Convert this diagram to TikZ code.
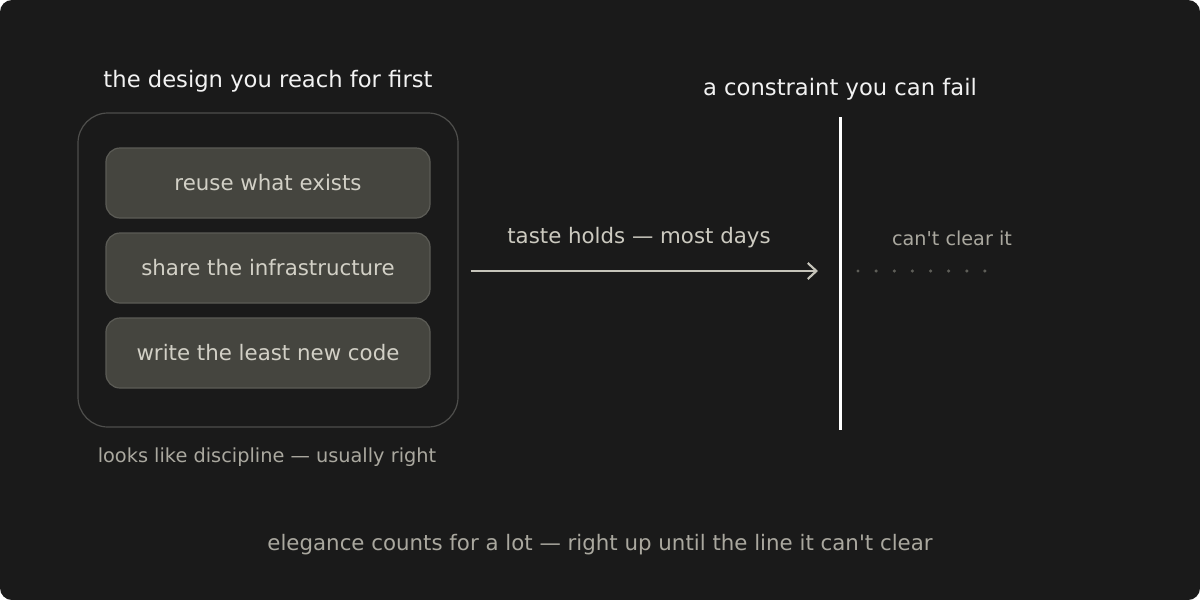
\documentclass[tikz,border=0pt]{standalone}
\usepackage{fontspec}
\setmainfont{DejaVu Sans}[Ligatures=TeXOff]
\usetikzlibrary{arrows.meta,positioning}
\definecolor{bgdark}{HTML}{1A1A1A}
\definecolor{boxline}{HTML}{4E4E4C}
\definecolor{itemfill}{HTML}{45453F}
\definecolor{itemline}{HTML}{5C5C56}
\definecolor{itemtext}{HTML}{D2D0C6}
\definecolor{softtext}{HTML}{AAA89F}
\definecolor{arrowgrey}{HTML}{C6C4BA}
\definecolor{dotgrey}{HTML}{5E5E58}

\begin{document}
\begin{tikzpicture}[x=0.75pt,y=-0.75pt,
  group/.style={draw=boxline,line width=0.9pt,rounded corners=22.5pt,
                minimum width=285pt,minimum height=235.5pt},
  item/.style={draw=itemline,fill=itemfill,line width=0.9pt,rounded corners=10.5pt,
               minimum width=243pt,minimum height=52.5pt,
               font=\fontsize{16}{19}\selectfont,text=itemtext},
  heading/.style={font=\fontsize{17}{20}\selectfont,text=white!95!black},
  note/.style={font=\fontsize{14.4}{17}\selectfont,text=softtext},
  arr/.style={-{Straight Barb[length=6.5pt,width=12pt]},line width=1.6pt,arrowgrey},
  wall/.style={draw=white,line width=2.25pt},
  dots/.style={dotgrey,line width=2.6pt,line cap=round,dash pattern=on 0pt off 13.6pt},
  node distance=10.35pt
]
% background
\fill[bgdark,rounded corners=9pt] (0,0) rectangle (1200,600);

% left group
\node[heading] (lefttitle) at (268,81) {the design you reach for first};
\node[group] (grp) at (268,270) {};
\node[item] (reuse) at (268,183) {reuse what exists};
\node[item,below=of reuse] (share) {share the infrastructure};
\node[item,below=of share] (least) {write the least new code};
\node[note,font=\fontsize{14.5}{17}\selectfont] (discipline) at (267,457) {looks like discipline — usually right};

% constraint
\node[heading] (righttitle) at (840,89) {a constraint you can fail};
\coordinate (walltop) at (840,117);
\coordinate (wallbot) at (840,430);
\coordinate (wallmid) at (840,271);
\draw[wall] (walltop) -- (wallbot);

% arrow and label
\draw[arr,shorten <=9pt,shorten >=16.5pt] (grp.east |- wallmid) -- (wallmid);
\node[note,font=\fontsize{16}{19}\selectfont,text=itemtext!85!softtext] (taste) at (639,238) {taste holds — most days};

% past the line
\coordinate (dotstart) at (858,271);
\coordinate (dotend) at (985,271);
\draw[dots] (dotstart) -- (dotend);
\node[note] (cantclear) at (952,238) {can't clear it};

% footer
\node[note,font=\fontsize{16}{19}\selectfont] (footer) at (600,545) {elegance counts for a lot — right up until the line it can't clear};
\end{tikzpicture}
\end{document}
